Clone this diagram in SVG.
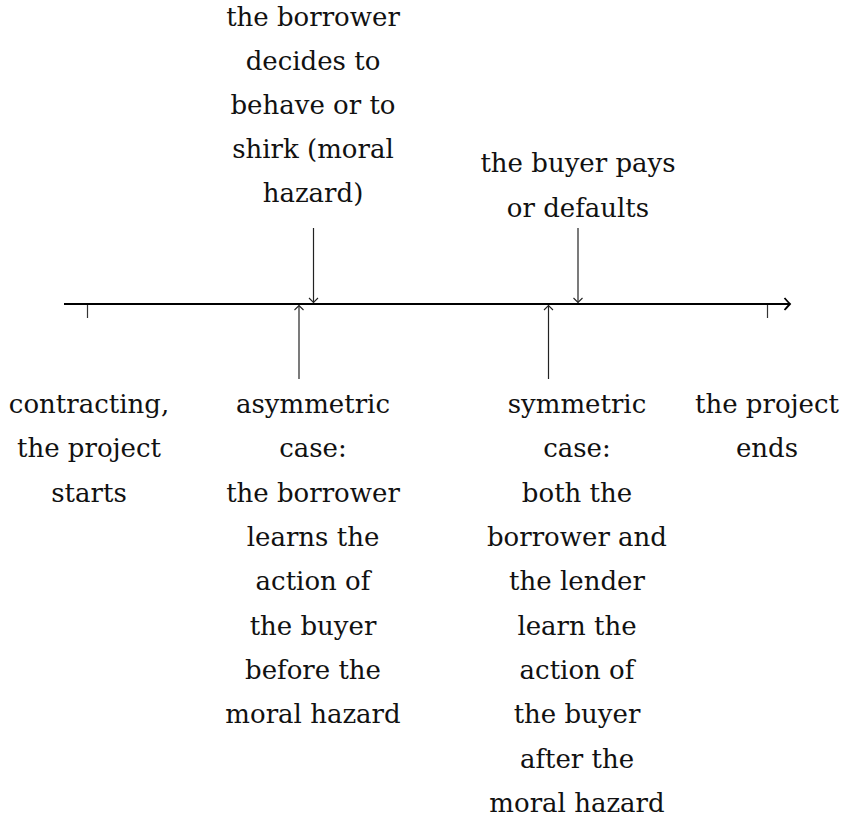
<svg xmlns="http://www.w3.org/2000/svg" width="844" height="835" viewBox="0 0 844 835">
<style>
  text { font-family: "DejaVu Serif", serif; font-size: 26px; fill: #111; text-anchor: middle; }
  .axis { stroke: #000; stroke-width: 2.2; fill: none; }
  .tick { stroke: #333; stroke-width: 1.2; fill: none; }
  .arr { stroke: #222; stroke-width: 1.2; fill: none; }
</style>
<defs>
  <marker id="head" markerUnits="userSpaceOnUse" markerWidth="12" markerHeight="12" viewBox="-6 -6 12 12" refX="0" refY="0" orient="auto">
    <path d="M -4.5,-4.5 Q -1.2,-1.2 0,0 Q -1.2,1.2 -4.5,4.5" stroke="#222" stroke-width="1.1" fill="none"/>
  </marker>
  <marker id="bighead" markerUnits="userSpaceOnUse" markerWidth="16" markerHeight="16" viewBox="-8 -8 16 16" refX="0" refY="0" orient="auto">
    <path d="M -5.5,-6 Q -1.5,-1.5 0,0 Q -1.5,1.5 -5.5,6" stroke="#000" stroke-width="1.8" fill="none"/>
  </marker>
</defs>
<g id="connectors">
  <line class="axis" x1="64" y1="304" x2="790" y2="304" marker-end="url(#bighead)"/>
  <line class="tick" x1="87.5" y1="305" x2="87.5" y2="318"/>
  <line class="tick" x1="767.5" y1="305" x2="767.5" y2="318"/>
  <line class="arr" x1="313.5" y1="228" x2="313.5" y2="302.5" marker-end="url(#head)"/>
  <line class="arr" x1="578" y1="228" x2="578" y2="302.5" marker-end="url(#head)"/>
  <line class="arr" x1="299" y1="379" x2="299" y2="305.5" marker-end="url(#head)"/>
  <line class="arr" x1="548.5" y1="379" x2="548.5" y2="305.5" marker-end="url(#head)"/>
</g>
<g id="moral-hazard">
  <text x="313" y="26">the borrower</text>
  <text x="313" y="70">decides to</text>
  <text x="313" y="114">behave or to</text>
  <text x="313" y="158">shirk (moral</text>
  <text x="313" y="202">hazard)</text>
</g>
<g id="buyer-pays">
  <text x="578" y="172">the buyer pays</text>
  <text x="578" y="217">or defaults</text>
</g>
<g id="contracting">
  <text x="89" y="413">contracting,</text>
  <text x="89" y="457">the project</text>
  <text x="89" y="502">starts</text>
</g>
<g id="asymmetric">
  <text x="313" y="413">asymmetric</text>
  <text x="313" y="457">case:</text>
  <text x="313" y="502">the borrower</text>
  <text x="313" y="546">learns the</text>
  <text x="313" y="590">action of</text>
  <text x="313" y="635">the buyer</text>
  <text x="313" y="679">before the</text>
  <text x="313" y="723">moral hazard</text>
</g>
<g id="symmetric">
  <text x="577" y="413">symmetric</text>
  <text x="577" y="457">case:</text>
  <text x="577" y="502">both the</text>
  <text x="577" y="546">borrower and</text>
  <text x="577" y="590">the lender</text>
  <text x="577" y="635">learn the</text>
  <text x="577" y="679">action of</text>
  <text x="577" y="723">the buyer</text>
  <text x="577" y="768">after the</text>
  <text x="577" y="812">moral hazard</text>
</g>
<g id="project-ends">
  <text x="767" y="413">the project</text>
  <text x="767" y="457">ends</text>
</g>
</svg>
